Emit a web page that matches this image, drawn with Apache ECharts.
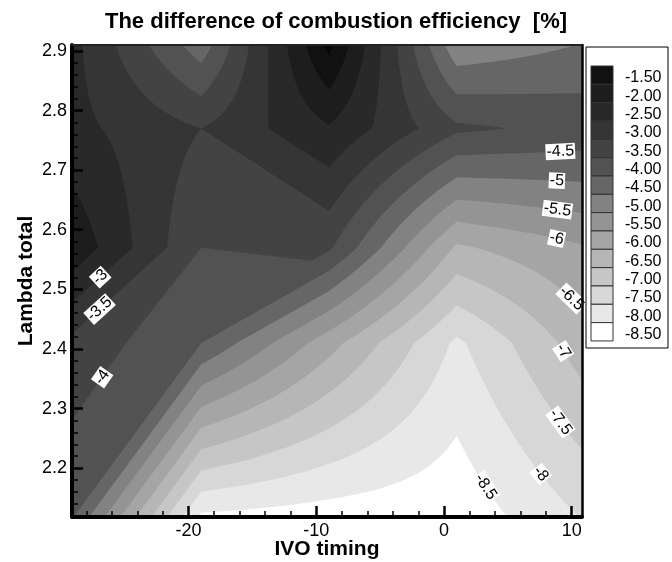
<!DOCTYPE html>
<html>
<head>
<meta charset="utf-8">
<script src="https://cdn.jsdelivr.net/npm/echarts@6/dist/echarts.min.js"></script>
<style>html,body{margin:0;padding:0;background:#fff}#c{width:672px;height:562px}</style>
</head>
<body>
<div id="c"></div>
<script>
// ---------------- data ----------------
const xNodes = [-29.13, -19, -9, 1, 10.81];          // IVO timing grid columns
const yNodes = [2.118, 2.41, 2.57, 2.77, 2.91];        // Lambda total grid rows
const zAt2118 = [-4.45, -8.6, -8.75, -8.85, -7.98];    // efficiency difference per row
const zAt241  = [-3.64, -4.5, -6.3, -8.1, -6.74];
const zAt257  = [-2.12, -4.0, -3.92, -6.58, -6.05];
const zAt277  = [-2.85, -3.5, -2.55, -3.9, -4.15];
const zAt291  = [-2.85, -4.78, -1.37, -5.37, -4.98];
// how each grid cell is interpolated: 'b' bilinear, '/' or '\\' split into two triangles
const cellModes = [['/', 'b', 'b', 'b'], ['/', '/', 'b', 'b'], ['b', '\\', 'b', 'b'], ['b', 'b', 'b', 'b']];
const levels = [-8.5, -8, -7.5, -7, -6.5, -6, -5.5, -5, -4.5, -4, -3.5, -3, -2.5, -2, -1.5];
// grey of each band: below -8.5, (-8.5,-8], ..., (-2,-1.5], above -1.5
const bandGrays = [255, 232, 215, 198, 182, 165, 148, 130, 102, 82, 67, 53, 41, 29, 17, 6];
const legendLabels = ['-1.50','-2.00','-2.50','-3.00','-3.50','-4.00','-4.50','-5.00','-5.50','-6.00','-6.50','-7.00','-7.50','-8.00','-8.50'];
const xMajorTicks = [-20, -10, 0, 10];
const xMinorTicks = [-28, -26, -24, -22, -18, -16, -14, -12, -8, -6, -4, -2, 2, 4, 6, 8];
const yMajorTicks = [2.2, 2.3, 2.4, 2.5, 2.6, 2.7, 2.8, 2.9];
const yMinorTicks = [2.12, 2.14, 2.16, 2.18, 2.22, 2.24, 2.26, 2.28, 2.32, 2.34, 2.36, 2.38,
                     2.42, 2.44, 2.46, 2.48, 2.52, 2.54, 2.56, 2.58, 2.62, 2.64, 2.66, 2.68,
                     2.72, 2.74, 2.76, 2.78, 2.82, 2.84, 2.86, 2.88];
const contourLabels = [ // [IVO timing, Lambda, level]
  [9.1, 2.737, -4.5], [8.85, 2.687, -5], [8.9, 2.636, -5.5], [8.8, 2.583, -6],
  [9.5, 2.474, -6.5], [9.1, 2.393, -7], [9.1, 2.277, -7.5], [7.8, 2.194, -8],
  [3.5, 2.172, -8.5], [-26.9, 2.52, -3], [-27.1, 2.47, -3.5], [-26.6, 2.35, -4]
];

// ---------------- contour geometry (regions value >= level) ----------------
const zGrid = [zAt2118, zAt241, zAt257, zAt277, zAt291];
const xMin = xNodes[0], xMax = xNodes[xNodes.length - 1];
const yMin = yNodes[0], yMax = yNodes[yNodes.length - 1];

function cellIdx(arr, v) {
  for (let i = 0; i < arr.length - 2; i++) if (v <= arr[i + 1]) return i;
  return arr.length - 2;
}
function cellValue(mode, z00, z10, z01, z11, t, s) {
  if (mode === '/') {
    return t >= s ? z00 + t * (z10 - z00) + s * (z11 - z10)
                  : z00 + s * (z01 - z00) + t * (z11 - z01);
  }
  if (mode === '\\') {
    return t + s <= 1 ? z00 + t * (z10 - z00) + s * (z01 - z00)
                      : z11 + (1 - t) * (z01 - z11) + (1 - s) * (z10 - z11);
  }
  return (1 - s) * ((1 - t) * z00 + t * z10) + s * ((1 - t) * z01 + t * z11);
}
function evalZ(x, y) {
  const i = cellIdx(xNodes, x), j = cellIdx(yNodes, y);
  let t = (x - xNodes[i]) / (xNodes[i + 1] - xNodes[i]);
  let s = (y - yNodes[j]) / (yNodes[j + 1] - yNodes[j]);
  t = Math.max(0, Math.min(1, t)); s = Math.max(0, Math.min(1, s));
  return cellValue(cellModes[j][i], zGrid[j][i], zGrid[j][i + 1], zGrid[j + 1][i], zGrid[j + 1][i + 1], t, s);
}
function clipAbove(poly, L) {
  const out = [];
  for (let k = 0; k < poly.length; k++) {
    const a = poly[k], b = poly[(k + 1) % poly.length];
    const ia = a[2] >= L, ib = b[2] >= L;
    if (ia) out.push(a);
    if (ia !== ib) {
      const t = (L - a[2]) / (b[2] - a[2]);
      out.push([a[0] + t * (b[0] - a[0]), a[1] + t * (b[1] - a[1]), L]);
    }
  }
  return out;
}
const regionPolys = levels.map(() => []);
const SUB = 18;
for (let j = 0; j < yNodes.length - 1; j++) {
  for (let i = 0; i < xNodes.length - 1; i++) {
    const mode = cellModes[j][i];
    const x0 = xNodes[i], x1 = xNodes[i + 1], y0 = yNodes[j], y1 = yNodes[j + 1];
    const dx = x1 - x0, dy = y1 - y0;
    const z00 = zGrid[j][i], z10 = zGrid[j][i + 1], z01 = zGrid[j + 1][i], z11 = zGrid[j + 1][i + 1];
    const zmin = Math.min(z00, z10, z01, z11), zmax = Math.max(z00, z10, z01, z11);
    const P = (t, s) => [x0 + t * dx, y0 + s * dy, cellValue(mode, z00, z10, z01, z11, t, s)];
    levels.forEach((L, k) => {
      if (zmax < L) return;
      if (zmin >= L) { regionPolys[k].push([[x0, y0], [x1, y0], [x1, y1], [x0, y1]]); return; }
      if (mode !== 'b') {
        const a = P(0, 0), b = P(1, 0), c = P(1, 1), d = P(0, 1);
        const tris = mode === '/' ? [[a, b, c], [a, c, d]] : [[a, b, d], [b, c, d]];
        tris.forEach(tr => { const q = clipAbove(tr, L); if (q.length >= 3) regionPolys[k].push(q); });
        return;
      }
      for (let a = 0; a < SUB; a++) {
        for (let c = 0; c < SUB; c++) {
          const p00 = P(a / SUB, c / SUB), p10 = P((a + 1) / SUB, c / SUB);
          const p11 = P((a + 1) / SUB, (c + 1) / SUB), p01 = P(a / SUB, (c + 1) / SUB);
          const mn = Math.min(p00[2], p10[2], p11[2], p01[2]);
          const mx = Math.max(p00[2], p10[2], p11[2], p01[2]);
          if (mx < L) continue;
          if (mn >= L) { regionPolys[k].push([p00, p10, p11, p01]); continue; }
          const q1 = clipAbove([p00, p10, p11], L), q2 = clipAbove([p00, p11, p01], L);
          if (q1.length >= 3) regionPolys[k].push(q1);
          if (q2.length >= 3) regionPolys[k].push(q2);
        }
      }
    });
  }
}
const gray = g => 'rgb(' + g + ',' + g + ',' + g + ')';
const regionData = levels.map((L, k) => [xMin, yMin, k]);

// ---------------- chart ----------------
const FONT = '"Liberation Sans", Arial, Helvetica, sans-serif';
const chart = echarts.init(document.getElementById('c'), null, { renderer: 'canvas' });

const gridL = 72, gridT = 45, gridW = 510, gridH = 472;
const legendGraphics = [];
legendGraphics.push({ type: 'rect', shape: { x: 586, y: 47, width: 82, height: 301 },
  style: { fill: '#fff', stroke: '#000', lineWidth: 1 }, z: 10 });
const swTop = 66, swH = 18.33, swX = 591, swW = 22;
legendLabels.forEach((lab, k) => {
  const b = levels.length - 1 - k;
  legendGraphics.push({ type: 'rect', shape: { x: swX, y: swTop + k * swH, width: swW, height: swH },
    style: { fill: gray(bandGrays[b]), stroke: '#333', lineWidth: 1 }, z: 11 });
  legendGraphics.push({ type: 'text', x: 625, y: swTop + k * swH + 12,
    style: { text: lab, fill: '#000', font: '16px ' + FONT, textVerticalAlign: 'middle', verticalAlign: 'middle' }, z: 11 });
});

const axisFont = { fontFamily: FONT, fontSize: 18, color: '#000' };
const nameFont = { fontFamily: FONT, fontSize: 21, fontWeight: 'bold', color: '#000' };

const option = {
  animation: false,
  backgroundColor: '#fff',
  title: { text: 'The difference of combustion efficiency  [%]', left: 'center', top: 6,
    textStyle: { fontFamily: FONT, fontSize: 22, fontWeight: 'bold', color: '#000' } },
  grid: { left: gridL, top: gridT, width: gridW, height: gridH, containLabel: false, outerBoundsMode: 'none' },
  xAxis: [
    { type: 'value', min: xMin, max: xMax, position: 'bottom', z: 8,
      name: 'IVO timing', nameLocation: 'middle', nameGap: 22, nameMoveOverlap: false, nameTextStyle: nameFont,
      axisLine: { show: true, onZero: false, lineStyle: { color: '#000', width: 4 } },
      axisTick: { show: true, inside: true, length: 11, customValues: xMajorTicks, lineStyle: { color: '#000', width: 2.5 } },
      axisLabel: { show: true, customValues: xMajorTicks, margin: 5, ...axisFont },
      splitLine: { show: false } },
    { type: 'value', min: xMin, max: xMax, position: 'bottom', z: 8,
      axisLine: { show: false, onZero: false },
      axisTick: { show: true, inside: true, length: 6, customValues: xMinorTicks, lineStyle: { color: '#000', width: 1.5 } },
      axisLabel: { show: false }, splitLine: { show: false } },
    { type: 'value', min: xMin, max: xMax, position: 'top', z: 8,
      axisLine: { show: true, onZero: false, lineStyle: { color: '#222', width: 2 } },
      axisTick: { show: false }, axisLabel: { show: false }, splitLine: { show: false } }
  ],
  yAxis: [
    { type: 'value', min: yMin, max: yMax, position: 'left', z: 8,
      name: 'Lambda total', nameLocation: 'middle', nameGap: 35, nameMoveOverlap: false, nameTextStyle: nameFont,
      axisLine: { show: true, onZero: false, lineStyle: { color: '#000', width: 4 } },
      axisTick: { show: true, inside: true, length: 11, customValues: yMajorTicks, lineStyle: { color: '#000', width: 2.5 } },
      axisLabel: { show: true, customValues: yMajorTicks, margin: 5, ...axisFont },
      splitLine: { show: false } },
    { type: 'value', min: yMin, max: yMax, position: 'left', z: 8,
      axisLine: { show: false, onZero: false },
      axisTick: { show: true, inside: true, length: 6, customValues: yMinorTicks, lineStyle: { color: '#000', width: 1.5 } },
      axisLabel: { show: false }, splitLine: { show: false } },
    { type: 'value', min: yMin, max: yMax, position: 'right', z: 8,
      axisLine: { show: true, onZero: false, lineStyle: { color: '#000', width: 2.5 } },
      axisTick: { show: false }, axisLabel: { show: false }, splitLine: { show: false } }
  ],
  graphic: legendGraphics,
  series: [
    { type: 'custom', name: 'bands', coordinateSystem: 'cartesian2d', xAxisIndex: 0, yAxisIndex: 0,
      silent: true, clip: true, z: 1, encode: { x: 0, y: 1 }, data: regionData,
      renderItem: function (params, api) {
        const k = api.value(2);
        const parts = [];
        for (const poly of regionPolys[k]) {
          for (let m = 0; m < poly.length; m++) {
            const p = api.coord([poly[m][0], poly[m][1]]);
            parts.push((m === 0 ? 'M' : 'L') + p[0].toFixed(2) + ' ' + p[1].toFixed(2));
          }
          parts.push('Z');
        }
        return { type: 'path', z2: k, shape: { pathData: parts.join('') },
          style: { fill: gray(bandGrays[k + 1]), stroke: null } };
      } },
    { type: 'custom', name: 'labels', coordinateSystem: 'cartesian2d', xAxisIndex: 0, yAxisIndex: 0,
      silent: true, clip: false, z: 5, encode: { x: 0, y: 1 }, data: contourLabels,
      renderItem: function (params, api) {
        const L = api.value(2);
        let x = api.value(0), y = api.value(1);
        const o = api.coord([x, y]), ox = api.coord([x + 1, y]), oy = api.coord([x, y + 0.1]);
        const sx = ox[0] - o[0], sy = (o[1] - oy[1]) / 0.1;
        let gx = 0, gy = 0;
        for (let k = 0; k < 8; k++) {
          const v = evalZ(x, y);
          gx = (evalZ(x + 0.05, y) - evalZ(x - 0.05, y)) / 0.1 / sx;
          gy = (evalZ(x, y + 0.002) - evalZ(x, y - 0.002)) / 0.004 / sy;
          const g2 = gx * gx + gy * gy;
          if (g2 < 1e-14) break;
          const st = (L - v) / g2;
          x += st * gx / sx; y += st * gy / sy;
        }
        let ang = Math.atan2(gx, gy);
        if (ang > Math.PI / 2) ang -= Math.PI;
        if (ang < -Math.PI / 2) ang += Math.PI;
        const p = api.coord([x, y]);
        return { type: 'text', x: p[0], y: p[1], rotation: -ang,
          style: { text: String(L), fill: '#000', font: '16px ' + FONT,
            align: 'center', verticalAlign: 'middle', textAlign: 'center', textVerticalAlign: 'middle',
            backgroundColor: '#fff', padding: [0, 1] } };
      } }
  ]
};
chart.setOption(option);
</script>
</body>
</html>
